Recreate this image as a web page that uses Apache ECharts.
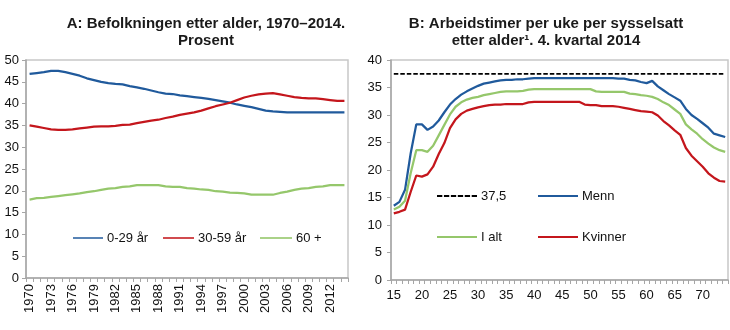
<!DOCTYPE html>
<html>
<head>
<meta charset="utf-8">
<script src="https://cdn.jsdelivr.net/npm/echarts@6/dist/echarts.min.js"></script>
<style>html,body{margin:0;padding:0;background:#fff}#c{width:730px;height:330px}</style>
</head>
<body>
<div id="c"></div>
<script>
// ---- Panel A data ----
const years = ['1970','1971','1972','1973','1974','1975','1976','1977','1978','1979',
  '1980','1981','1982','1983','1984','1985','1986','1987','1988','1989',
  '1990','1991','1992','1993','1994','1995','1996','1997','1998','1999',
  '2000','2001','2002','2003','2004','2005','2006','2007','2008','2009',
  '2010','2011','2012','2013','2014'];
const age0to29 = [46.8,47.0,47.2,47.5,47.5,47.2,46.8,46.4,45.8,45.4,
  45.0,44.7,44.5,44.4,44.0,43.7,43.4,43.0,42.6,42.3,
  42.2,41.9,41.7,41.5,41.3,41.1,40.8,40.5,40.2,39.8,
  39.5,39.2,38.8,38.4,38.2,38.1,38.0,38.0,38.0,38.0,
  38.0,38.0,38.0,38.0,38.0];
const age30to59 = [35.0,34.7,34.4,34.1,34.0,34.0,34.1,34.3,34.5,34.7,
  34.8,34.8,34.9,35.1,35.2,35.5,35.8,36.1,36.3,36.7,
  37.0,37.4,37.7,38.0,38.4,38.9,39.4,39.8,40.2,40.8,
  41.4,41.8,42.1,42.3,42.4,42.1,41.8,41.5,41.3,41.2,
  41.2,41.0,40.8,40.6,40.6];
const age60plus = [18.0,18.3,18.4,18.6,18.8,19.0,19.2,19.4,19.7,19.9,
  20.2,20.5,20.6,20.9,21.0,21.3,21.3,21.3,21.3,21.0,
  20.9,20.9,20.6,20.5,20.3,20.2,19.9,19.8,19.6,19.5,
  19.4,19.1,19.1,19.1,19.1,19.5,19.8,20.2,20.5,20.6,
  20.9,21.0,21.3,21.3,21.3];
const yTicksA = {min: 0, max: 50, interval: 5};

// ---- Panel B data ----
const ages = ['15','16','17','18','19','20','21','22','23','24',
  '25','26','27','28','29','30','31','32','33','34',
  '35','36','37','38','39','40','41','42','43','44',
  '45','46','47','48','49','50','51','52','53','54',
  '55','56','57','58','59','60','61','62','63','64',
  '65','66','67','68','69','70','71','72','73','74'];
const menn = [13.5,14.2,16.4,23.0,28.3,28.3,27.3,27.9,29.0,30.5,
  31.9,32.9,33.7,34.3,34.8,35.3,35.7,35.9,36.1,36.3,
  36.4,36.4,36.5,36.5,36.6,36.7,36.7,36.7,36.7,36.7,
  36.7,36.7,36.7,36.7,36.7,36.7,36.7,36.7,36.7,36.7,
  36.6,36.6,36.4,36.3,36.0,35.8,36.2,35.2,34.5,33.8,
  33.2,32.6,31.1,30.0,29.3,28.5,27.7,26.6,26.3,26.0];
const iAlt = [12.8,13.3,14.4,19.4,23.6,23.6,23.3,24.4,26.3,28.2,
  30.1,31.5,32.3,32.8,33.1,33.3,33.6,33.8,34.0,34.2,
  34.3,34.3,34.3,34.4,34.6,34.7,34.7,34.7,34.7,34.7,
  34.7,34.7,34.7,34.7,34.7,34.7,34.3,34.2,34.2,34.2,
  34.2,34.2,33.9,33.8,33.6,33.5,33.3,32.9,32.3,31.8,
  31.0,30.2,28.3,27.4,26.6,25.6,24.8,24.1,23.6,23.3];
const kvinner = [12.1,12.4,12.8,16.0,19.0,18.8,19.2,20.6,22.9,24.9,
  27.6,29.2,30.2,30.8,31.1,31.4,31.6,31.8,31.9,31.9,
  32.0,32.0,32.0,32.0,32.3,32.4,32.4,32.4,32.4,32.4,
  32.4,32.4,32.4,32.4,31.9,31.8,31.8,31.6,31.6,31.6,
  31.5,31.3,31.1,30.9,30.7,30.6,30.5,29.9,28.9,28.1,
  27.2,26.4,24.0,22.6,21.6,20.6,19.4,18.6,18.0,17.9];
const refLevel = 37.5;
const yTicksB = {min: 0, max: 40, interval: 5};

// ---- styling ----
const FONT = '"Liberation Sans", Arial, sans-serif';
const BLUE = '#205a9c', RED = '#c4161c', GREEN = '#95c76b';
const axisGray = '#a6a6a6';
const LW = 2.25;
const SOLID_ICON = 'path://M0,0h40v2h-40z';
const DASH_ICON = 'path://M0,0h5.3v2h-5.3z M6.94,0h5.3v2h-5.3z M13.88,0h5.3v2h-5.3z M20.82,0h5.3v2h-5.3z M27.76,0h5.3v2h-5.3z M34.7,0h5.3v2h-5.3z';

function catAxis(idx, data, labelInterval, rotate, margin) {
  return {
    type: 'category', gridIndex: idx, data: data, boundaryGap: true,
    axisLine: {show: true, lineStyle: {color: axisGray, width: 1.5}},
    axisTick: {show: true, interval: 0, length: 4, lineStyle: {color: axisGray, width: 1}},
    axisLabel: {interval: labelInterval, rotate: rotate, margin: margin, fontSize: 13, fontFamily: FONT, color: '#111'},
    splitLine: {show: false}
  };
}
function valAxis(idx, t, margin) {
  return {
    type: 'value', gridIndex: idx, min: t.min, max: t.max, interval: t.interval,
    axisLine: {show: true, lineStyle: {color: axisGray, width: 1.5}},
    axisTick: {show: true, length: 4, lineStyle: {color: axisGray, width: 1}},
    axisLabel: {margin: margin, fontSize: 13, fontFamily: FONT, color: '#111'},
    splitLine: {show: false}
  };
}
function lineSeries(name, x, y, data, color, dash, width) {
  return {
    name: name, type: 'line', xAxisIndex: x, yAxisIndex: y, data: data,
    symbol: 'none', showSymbol: false, smooth: false,
    lineStyle: {color: color, width: width || LW, type: dash || 'solid'},
    itemStyle: {color: color}, emphasis: {disabled: true}
  };
}
function legendAt(name, left, cy, iconW, icon, iconH) {
  return {
    data: [{name: name, icon: icon || SOLID_ICON}], left: left, top: cy - 7, padding: 0,
    itemWidth: iconW, itemHeight: iconH || 2.5, itemGap: 0,
    textStyle: {fontSize: 13, fontFamily: FONT, color: '#111', lineHeight: 14, padding: [0, 0, 0, -1]},
    selectedMode: false
  };
}
function titleText(txt, x, y) {
  return {type: 'text', x: x, y: y, silent: true,
    style: {text: txt, font: 'bold 15px ' + FONT, fill: '#1a1a1a', textAlign: 'center', textVerticalAlign: 'middle', align: 'center', verticalAlign: 'middle'}};
}

const chart = echarts.init(document.getElementById('c'), null, {renderer: 'canvas'});
chart.setOption({
  animation: false,
  backgroundColor: '#fff',
  graphic: [
    titleText('A: Befolkningen etter alder, 1970–2014.', 206, 24),
    titleText('Prosent', 206, 41),
    titleText('B: Arbeidstimer per uke per sysselsatt', 546, 24),
    titleText('etter alder¹. 4. kvartal 2014', 546, 41)
  ],
  grid: [
    {left: 26, top: 60, width: 322, height: 218, show: true, borderColor: '#c8c8c8', borderWidth: 1.5, backgroundColor: 'transparent', containLabel: false, outerBoundsMode: 'none'},
    {left: 391, top: 60, width: 337, height: 220, show: true, borderColor: '#c8c8c8', borderWidth: 1.5, backgroundColor: 'transparent', containLabel: false, outerBoundsMode: 'none'}
  ],
  xAxis: [
    catAxis(0, years, 2, 90, 6),
    catAxis(1, ages, 4, 0, 9)
  ],
  yAxis: [
    valAxis(0, yTicksA, 7),
    valAxis(1, yTicksB, 9)
  ],
  legend: [
    legendAt('0-29 år', 73, 238, 30),
    legendAt('30-59 år', 163, 238, 31),
    legendAt('60 +', 260, 238, 32),
    legendAt('37,5', 437, 196, 40, DASH_ICON, 2),
    legendAt('Menn', 538, 196, 40),
    legendAt('I alt', 437, 237, 40),
    legendAt('Kvinner', 538, 237, 40)
  ],
  series: [
    lineSeries('0-29 år', 0, 0, age0to29, BLUE),
    lineSeries('30-59 år', 0, 0, age30to59, RED),
    lineSeries('60 +', 0, 0, age60plus, GREEN),
    lineSeries('37,5', 1, 1, ages.map(function () { return refLevel; }), '#000', [4.5, 2], 1.75),
    lineSeries('Menn', 1, 1, menn, BLUE),
    lineSeries('I alt', 1, 1, iAlt, GREEN),
    lineSeries('Kvinner', 1, 1, kvinner, RED)
  ]
});
</script>
</body>
</html>
